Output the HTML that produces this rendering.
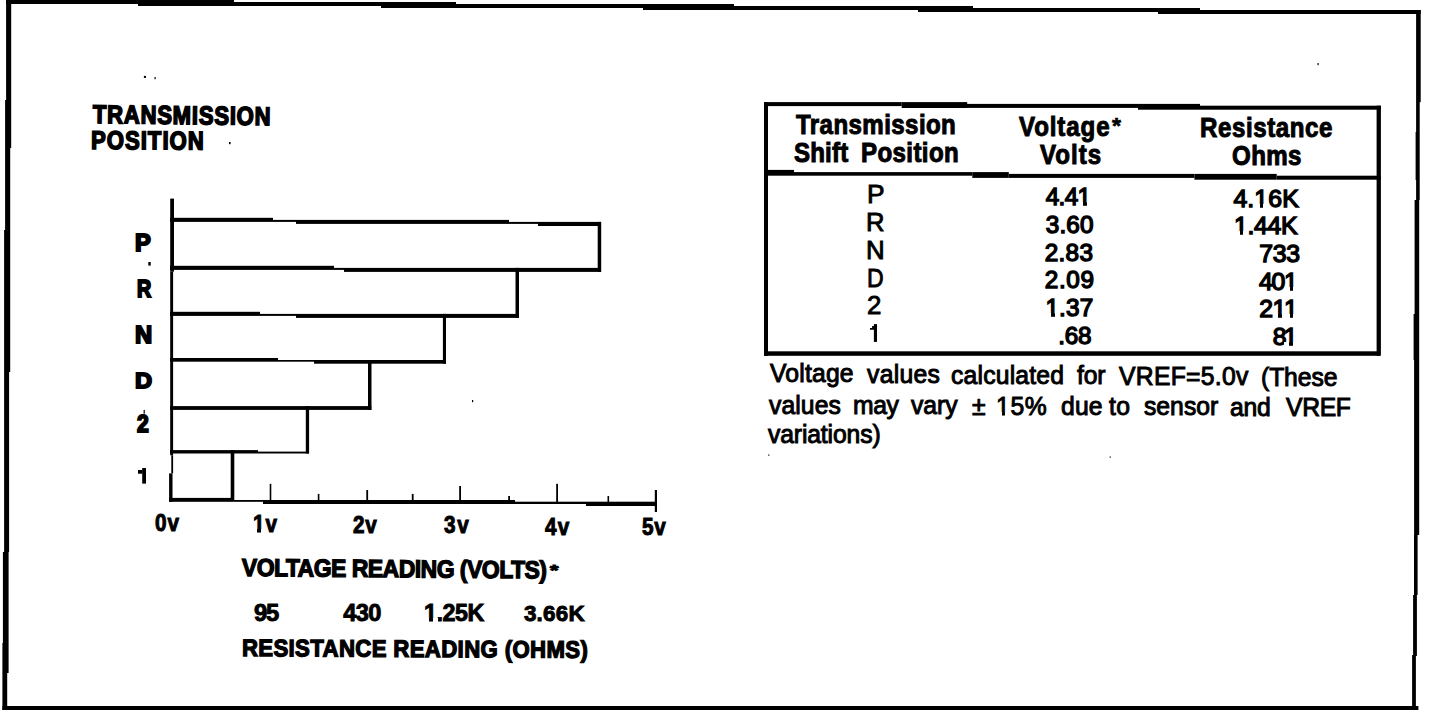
<!DOCTYPE html>
<html><head><meta charset="utf-8">
<style>
html,body{margin:0;padding:0;background:#fff;}
body{width:1440px;height:710px;position:relative;overflow:hidden;font-family:"Liberation Sans",sans-serif;color:#000;}
svg{position:absolute;left:0;top:0;}
.t{position:absolute;white-space:pre;line-height:1;transform-origin:0 0;}
.b{font-weight:bold;}
</style></head>
<body>
<svg width="1440" height="710" viewBox="0 0 1440 710">
<g fill="#000">
<!-- outer frame top (stepped) -->
<rect x="6" y="0" width="132" height="4"/>
<rect x="138" y="0" width="96" height="6"/>
<rect x="234" y="2" width="147" height="4"/>
<rect x="381" y="2" width="75" height="6"/>
<rect x="456" y="4" width="187" height="4"/>
<rect x="643" y="4" width="91" height="6"/>
<rect x="734" y="6" width="184" height="4"/>
<rect x="918" y="6" width="55" height="6"/>
<rect x="973" y="8" width="185" height="4"/>
<rect x="1158" y="8" width="42" height="6"/>
<rect x="1200" y="10" width="220.7" height="4"/>
<!-- left border -->
<rect x="6.1" y="0" width="5.1" height="100"/>
<rect x="5.1" y="100" width="6.1" height="48"/>
<rect x="5.1" y="148" width="5.1" height="82"/>
<rect x="4.1" y="230" width="6.1" height="142"/>
<rect x="4.1" y="372" width="5" height="180"/>
<rect x="2.9" y="552" width="5.7" height="91"/>
<rect x="2.4" y="643" width="6.2" height="30"/>
<rect x="2.4" y="673" width="4.8" height="37"/>
<!-- right border -->
<rect x="1416.1" y="10.2" width="4.6" height="92"/>
<rect x="1416.1" y="102" width="3.6" height="30"/>
<rect x="1415.6" y="132" width="4.1" height="48"/>
<rect x="1416.1" y="180" width="3.6" height="20"/>
<rect x="1414.6" y="200" width="4.6" height="114"/>
<rect x="1413.6" y="314" width="5.6" height="46"/>
<rect x="1414.1" y="360" width="5.1" height="175"/>
<rect x="1414" y="535" width="3.6" height="60"/>
<rect x="1413.1" y="595" width="3.8" height="61"/>
<rect x="1412.1" y="655" width="3.8" height="55"/>
<!-- bottom -->
<rect x="2.4" y="706" width="1416" height="4"/>

<!-- chart axis -->
<rect x="170.2" y="198.6" width="3.8" height="73"/>
<rect x="170.2" y="271.5" width="2.9" height="183.8"/>
<rect x="171.3" y="455.3" width="1.8" height="18.1"/>
<rect x="169.1" y="473.4" width="3.4" height="28.3"/>
<!-- bars: top lines -->
<rect x="170" y="217.8" width="103" height="4.1"/>
<rect x="273" y="219.9" width="23" height="2"/>
<rect x="296" y="219.9" width="213" height="4"/>
<rect x="509" y="221.9" width="29" height="2"/>
<rect x="538" y="221.9" width="63" height="4.1"/>
<rect x="170" y="265.8" width="164" height="4.1"/>
<rect x="334" y="267.9" width="10" height="2"/>
<rect x="344" y="267.9" width="257" height="4"/>
<rect x="170" y="311.8" width="90" height="4.1"/>
<rect x="260" y="313.9" width="36" height="2"/>
<rect x="296" y="313.9" width="223" height="4"/>
<rect x="170" y="358" width="108" height="3.7"/>
<rect x="278" y="360" width="36" height="1.7"/>
<rect x="314" y="360" width="132" height="3.7"/>
<rect x="170" y="406.1" width="201.3" height="3.8"/>
<rect x="170" y="450.1" width="88" height="3.4"/>
<rect x="258" y="451.6" width="51" height="1.9"/>
<!-- bar right edges -->
<rect x="597.7" y="221.9" width="3.5" height="50"/>
<rect x="515.5" y="267.9" width="3.5" height="50"/>
<rect x="442.9" y="313.9" width="3.1" height="49.8"/>
<rect x="368" y="360" width="3.5" height="49.9"/>
<rect x="305.8" y="406.1" width="3.3" height="47.4"/>
<rect x="230.7" y="450.1" width="3.6" height="51"/>
<!-- bottom axis -->
<rect x="169.1" y="497.9" width="64.7" height="3.9"/>
<rect x="233.8" y="500" width="29.2" height="1.8"/>
<rect x="263" y="500" width="252" height="4"/>
<rect x="515" y="501.7" width="71" height="2.3"/>
<rect x="586" y="501.7" width="70" height="4.3"/>
<!-- ticks -->
<rect x="269.7" y="483.8" width="1.6" height="17.7"/>
<rect x="317.8" y="493.9" width="1.6" height="7.6"/>
<rect x="366.3" y="490" width="1.8" height="11.5"/>
<rect x="411.8" y="493.9" width="1.8" height="7.6"/>
<rect x="459.2" y="486" width="1.8" height="15.5"/>
<rect x="508.2" y="496" width="1.8" height="5.5"/>
<rect x="556.2" y="483.8" width="1.8" height="18.5"/>
<rect x="607.5" y="496" width="1.6" height="6.5"/>
<rect x="654.8" y="490" width="2.2" height="22"/>

<!-- table -->
<rect x="764" y="102.1" width="137.7" height="4"/>
<rect x="901.7" y="102.1" width="65.5" height="5.9"/>
<rect x="967" y="103.9" width="171" height="4"/>
<rect x="1138" y="103.9" width="62" height="5.8"/>
<rect x="1200" y="105.7" width="181" height="4"/>
<rect x="764" y="169.9" width="30" height="5.8"/>
<rect x="794" y="172.1" width="178.3" height="3.6"/>
<rect x="972.3" y="172.1" width="36.5" height="5.8"/>
<rect x="1008.8" y="173.9" width="185.6" height="4"/>
<rect x="1194.4" y="173.9" width="82.3" height="5.8"/>
<rect x="1276.7" y="175.7" width="104" height="4"/>
<rect x="764" y="351.3" width="616" height="4.5"/>
<rect x="764" y="102.1" width="4" height="253.7"/>
<rect x="1376.6" y="105.7" width="4.3" height="250"/>
<!-- glyph 1 chart -->
<rect x="142.2" y="468" width="3.8" height="15.6"/>
<rect x="138" y="470" width="4.5" height="3.7"/>
<!-- glyph 1 table -->
<rect x="873.9" y="324.1" width="3.1" height="17.8"/>
<polygon points="870,327.9 872.1,327.9 872.1,326 874.5,326 874.5,329.8 870,329.8"/>
<!-- specks -->
<rect x="143.9" y="75.9" width="2.1" height="2"/>
<rect x="154.5" y="77" width="1.2" height="2.2"/>
<rect x="1317.5" y="63" width="1.2" height="2.2"/>
<rect x="148.3" y="262" width="2.4" height="3.6"/>
<rect x="143.6" y="409.9" width="1.2" height="3.8"/>
<rect x="229" y="142" width="1.6" height="2.2"/>
<rect x="472" y="400" width="1.2" height="2.2"/>
<rect x="768.2" y="454.5" width="1.2" height="1.2"/>
<rect x="1109.6" y="456.5" width="1.2" height="1.2"/>
</g>
</svg>
<div class="t b" id="tr1" style="left:93.03px;top:101.94px;font-size:25.70px;transform:rotate(0.680deg) scaleX(0.8600);letter-spacing:0.88px;-webkit-text-stroke:1.60px #000;">TRANSMISSION</div>
<div class="t b" id="tr2" style="left:90.83px;top:128.14px;font-size:25.70px;transform:rotate(0.300deg) scaleX(0.8600);letter-spacing:1.21px;-webkit-text-stroke:1.60px #000;">POSITION</div>
<div class="t b" id="cP" style="left:134.75px;top:232.35px;font-size:23.00px;transform:scaleX(1.0250);-webkit-text-stroke:1.90px #000;">P</div>
<div class="t b" id="cR" style="left:136.69px;top:278.24px;font-size:23.48px;transform:scaleX(0.8390);-webkit-text-stroke:1.90px #000;">R</div>
<div class="t b" id="cN" style="left:134.56px;top:323.41px;font-size:23.96px;transform:scaleX(0.9921);-webkit-text-stroke:1.90px #000;">N</div>
<div class="t b" id="cD" style="left:134.70px;top:370.01px;font-size:22.55px;transform:scaleX(1.0480);-webkit-text-stroke:1.90px #000;">D</div>
<div class="t b" id="c2" style="left:136.87px;top:413.47px;font-size:23.58px;transform:scaleX(0.8942);-webkit-text-stroke:1.90px #000;">2</div>
<div class="t b" id="x0" style="left:155.32px;top:510.65px;font-size:24.40px;transform:scaleX(0.8500);letter-spacing:1.17px;-webkit-text-stroke:1.00px #000;">0v</div>
<div class="t b" id="x1" style="left:253.02px;top:511.55px;font-size:24.40px;transform:scaleX(0.8500);letter-spacing:1.25px;-webkit-text-stroke:1.00px #000;"><span class="one">1</span>v</div>
<div class="t b" id="x2" style="left:353.16px;top:513.15px;font-size:24.40px;transform:scaleX(0.8500);letter-spacing:0.74px;-webkit-text-stroke:1.00px #000;">2v</div>
<div class="t b" id="x3" style="left:444.10px;top:512.95px;font-size:24.40px;transform:scaleX(0.8500);letter-spacing:1.89px;-webkit-text-stroke:1.00px #000;">3v</div>
<div class="t b" id="x4" style="left:544.82px;top:515.35px;font-size:24.40px;transform:scaleX(0.8500);letter-spacing:1.48px;-webkit-text-stroke:1.00px #000;">4v</div>
<div class="t b" id="x5" style="left:641.91px;top:515.15px;font-size:24.40px;transform:scaleX(0.8500);letter-spacing:0.75px;-webkit-text-stroke:1.00px #000;">5v</div>
<div class="t b" id="vr" style="left:241.93px;top:556.29px;font-size:24.70px;transform:rotate(0.450deg) scaleX(0.9300);letter-spacing:-0.55px;-webkit-text-stroke:1.30px #000;">VOLTAGE READING (VOLTS)</div>
<div class="t b" id="r95" style="left:253.92px;top:601.44px;font-size:23.83px;letter-spacing:-1.12px;-webkit-text-stroke:0.90px #000;">95</div>
<div class="t b" id="r430" style="left:343.22px;top:601.58px;font-size:23.61px;letter-spacing:-0.64px;-webkit-text-stroke:0.90px #000;">430</div>
<div class="t b" id="r125" style="left:424.00px;top:602.15px;font-size:23.29px;letter-spacing:-0.44px;-webkit-text-stroke:0.90px #000;"><span class="one">1</span>.25K</div>
<div class="t b" id="r366" style="left:523.92px;top:602.91px;font-size:22.41px;letter-spacing:0.23px;-webkit-text-stroke:0.90px #000;">3.66K</div>
<div class="t b" id="rr" style="left:241.67px;top:635.65px;font-size:23.80px;transform:rotate(0.300deg) scaleX(0.9300);letter-spacing:0.42px;-webkit-text-stroke:1.30px #000;">RESISTANCE READING (OHMS)</div>
<div class="t b" id="h1a" style="left:795.98px;top:111.01px;font-size:27.40px;transform:scaleX(0.8800);letter-spacing:0.46px;-webkit-text-stroke:1.00px #000;">Transmission</div>
<div class="t b" id="h2a" style="left:1019.25px;top:112.61px;font-size:27.40px;transform:scaleX(0.8800);letter-spacing:1.01px;-webkit-text-stroke:1.00px #000;">Voltage</div>
<div class="t b" id="h2b" style="left:1039.87px;top:140.81px;font-size:27.40px;transform:scaleX(0.8800);letter-spacing:1.15px;-webkit-text-stroke:1.00px #000;">Volts</div>
<div class="t b" id="h3a" style="left:1200.30px;top:114.41px;font-size:27.40px;transform:scaleX(0.8800);letter-spacing:0.64px;-webkit-text-stroke:1.00px #000;">Resistance</div>
<div class="t b" id="h3b" style="left:1231.75px;top:142.01px;font-size:27.40px;transform:scaleX(0.8800);letter-spacing:0.45px;-webkit-text-stroke:1.00px #000;">Ohms</div>
<div class="t" id="tP" style="left:867.02px;top:182.16px;font-size:25.80px;transform:scaleX(1.0197);-webkit-text-stroke:0.90px #000;">P</div>
<div class="t" id="tR" style="left:865.85px;top:209.96px;font-size:25.80px;transform:scaleX(0.9934);-webkit-text-stroke:0.90px #000;">R</div>
<div class="t" id="tN" style="left:865.84px;top:237.76px;font-size:25.80px;transform:scaleX(1.0029);-webkit-text-stroke:0.90px #000;">N</div>
<div class="t" id="tD" style="left:867.05px;top:265.56px;font-size:25.80px;transform:scaleX(0.8937);-webkit-text-stroke:0.90px #000;">D</div>
<div class="t" id="t2" style="left:866.95px;top:293.36px;font-size:25.80px;transform:scaleX(1.0018);-webkit-text-stroke:0.90px #000;">2</div>
<div class="t" id="v1" style="left:1045.67px;top:185.33px;font-size:24.30px;letter-spacing:-0.64px;-webkit-text-stroke:1.40px #000;">4.4<span class="one">1</span></div>
<div class="t" id="v2" style="left:1045.82px;top:213.03px;font-size:24.30px;letter-spacing:0.14px;-webkit-text-stroke:1.40px #000;">3.60</div>
<div class="t" id="v3" style="left:1044.80px;top:240.73px;font-size:24.30px;letter-spacing:0.27px;-webkit-text-stroke:1.40px #000;">2.83</div>
<div class="t" id="v4" style="left:1044.77px;top:268.43px;font-size:24.30px;letter-spacing:0.64px;-webkit-text-stroke:1.40px #000;">2.09</div>
<div class="t" id="v5" style="left:1045.43px;top:296.13px;font-size:24.30px;letter-spacing:0.16px;-webkit-text-stroke:1.40px #000;"><span class="one">1</span>.37</div>
<div class="t" id="v6" style="left:1058.15px;top:323.83px;font-size:24.30px;letter-spacing:-0.24px;-webkit-text-stroke:1.40px #000;">.68</div>
<div class="t" id="o1" style="left:1233.43px;top:186.51px;font-size:24.80px;letter-spacing:0.12px;-webkit-text-stroke:1.40px #000;">4.<span class="one">1</span>6K</div>
<div class="t" id="o2" style="left:1234.09px;top:214.21px;font-size:24.80px;letter-spacing:-0.33px;-webkit-text-stroke:1.40px #000;"><span class="one">1</span>.44K</div>
<div class="t" id="o3" style="left:1259.18px;top:241.91px;font-size:24.80px;letter-spacing:-0.26px;-webkit-text-stroke:1.40px #000;">733</div>
<div class="t" id="o4" style="left:1259.00px;top:269.61px;font-size:24.80px;letter-spacing:-1.31px;-webkit-text-stroke:1.40px #000;">40<span class="one">1</span></div>
<div class="t" id="o5" style="left:1259.36px;top:297.31px;font-size:24.80px;letter-spacing:-0.60px;-webkit-text-stroke:1.40px #000;">2<span class="one">1</span><span class="one">1</span></div>
<div class="t" id="o6" style="left:1272.71px;top:325.01px;font-size:24.80px;letter-spacing:-2.80px;-webkit-text-stroke:1.40px #000;">8<span class="one">1</span></div>
<div class="t" id="w0" style="left:770.00px;top:360.18px;font-size:26.00px;transform:scaleX(0.9500);letter-spacing:0.20px;-webkit-text-stroke:1.00px #000;">Voltage</div>
<div class="t" id="w1" style="left:866.60px;top:360.80px;font-size:26.00px;transform:scaleX(0.9500);letter-spacing:0.30px;-webkit-text-stroke:1.00px #000;">values</div>
<div class="t" id="w2" style="left:950.80px;top:361.52px;font-size:26.00px;transform:scaleX(0.9500);letter-spacing:0.21px;-webkit-text-stroke:1.00px #000;">calculated</div>
<div class="t" id="w3" style="left:1077.00px;top:362.10px;font-size:26.00px;transform:scaleX(0.9500);letter-spacing:-0.15px;-webkit-text-stroke:1.00px #000;">for</div>
<div class="t" id="w4" style="left:1119.00px;top:362.74px;font-size:26.00px;transform:scaleX(0.9500);letter-spacing:0.31px;-webkit-text-stroke:1.00px #000;">VREF=5.0v</div>
<div class="t" id="w5" style="left:1261.00px;top:363.53px;font-size:26.00px;transform:scaleX(0.9500);letter-spacing:-0.10px;-webkit-text-stroke:1.00px #000;">(These</div>
<div class="t" id="w6" style="left:769.00px;top:391.83px;font-size:26.00px;transform:scaleX(0.9500);letter-spacing:0.10px;-webkit-text-stroke:1.00px #000;">values</div>
<div class="t" id="w7" style="left:852.80px;top:392.11px;font-size:26.00px;transform:scaleX(0.9500);letter-spacing:-0.45px;-webkit-text-stroke:1.00px #000;">may</div>
<div class="t" id="w8" style="left:911.00px;top:392.35px;font-size:26.00px;transform:scaleX(0.9500);-webkit-text-stroke:1.00px #000;">vary</div>
<div class="t" id="w9" style="left:972.20px;top:392.52px;font-size:26.00px;transform:scaleX(0.9500);-webkit-text-stroke:1.00px #000;">±</div>
<div class="t" id="w10" style="left:996.00px;top:392.69px;font-size:26.00px;transform:scaleX(0.9500);letter-spacing:0.70px;-webkit-text-stroke:1.00px #000;"><span class="one">1</span>5%</div>
<div class="t" id="w11" style="left:1060.80px;top:392.93px;font-size:26.00px;transform:scaleX(0.9500);letter-spacing:0.15px;-webkit-text-stroke:1.00px #000;">due</div>
<div class="t" id="w12" style="left:1109.40px;top:393.07px;font-size:26.00px;transform:scaleX(0.9500);letter-spacing:0.40px;-webkit-text-stroke:1.00px #000;">to</div>
<div class="t" id="w13" style="left:1144.40px;top:393.32px;font-size:26.00px;transform:scaleX(0.9500);letter-spacing:0.02px;-webkit-text-stroke:1.00px #000;">sensor</div>
<div class="t" id="w14" style="left:1230.40px;top:393.60px;font-size:26.00px;transform:scaleX(0.9500);letter-spacing:-0.20px;-webkit-text-stroke:1.00px #000;">and</div>
<div class="t" id="w15" style="left:1286.00px;top:393.86px;font-size:26.00px;transform:scaleX(0.9500);letter-spacing:-0.33px;-webkit-text-stroke:1.00px #000;">VREF</div>
<div class="t" id="w16" style="left:768.00px;top:421.39px;font-size:26.00px;transform:scaleX(0.9500);letter-spacing:-0.14px;-webkit-text-stroke:1.00px #000;">variations)</div>
<div class="t b" id="h1b1" style="left:793.57px;top:138.71px;font-size:27.40px;transform:scaleX(0.8800);letter-spacing:0.18px;-webkit-text-stroke:1.00px #000;">Shift</div>
<div class="t b" id="h1b2" style="left:861.14px;top:138.71px;font-size:27.40px;transform:scaleX(0.8800);letter-spacing:0.44px;-webkit-text-stroke:1.00px #000;">Position</div>
<div class="t b" id="vast" style="left:549.84px;top:562.62px;font-size:14.78px;transform:scaleX(1.4583);-webkit-text-stroke:1.00px #000;">*</div>
<div class="t b" id="h2ast" style="left:1112.42px;top:114.71px;font-size:21.74px;transform:scaleX(1.0645);-webkit-text-stroke:0.60px #000;">*</div>
<svg width="1440" height="710" viewBox="0 0 1440 710" style="position:absolute;left:0;top:0;"><g fill="#fff">
<rect x="253" y="529" width="4" height="4.5"/>
<rect x="261" y="529" width="4" height="4.5"/>
<rect x="424" y="618" width="5" height="4.5"/>
<rect x="433" y="618" width="5" height="4.5"/>
<rect x="1078" y="202" width="5" height="4.5"/>
<rect x="1087" y="202" width="4" height="4.5"/>
<rect x="1046" y="313" width="5" height="4.5"/>
<rect x="1055" y="313" width="4" height="4.5"/>
<rect x="1255" y="204" width="5" height="4.5"/>
<rect x="1263" y="204" width="5" height="4.5"/>
<rect x="1234" y="231" width="6" height="4.5"/>
<rect x="1243" y="231" width="5" height="4.5"/>
<rect x="1284" y="287" width="6" height="4.5"/>
<rect x="1293" y="287" width="5" height="4.5"/>
<rect x="1273" y="314" width="5" height="4.5"/>
<rect x="1282" y="314" width="5" height="4.5"/>
<rect x="1284" y="314" width="6" height="4.5"/>
<rect x="1293" y="314" width="5" height="4.5"/>
<rect x="1284" y="342" width="5" height="4.5"/>
<rect x="1293" y="342" width="5" height="4.5"/>
<rect x="997" y="412" width="5" height="4.5"/>
<rect x="1005" y="412" width="5" height="4.5"/>
</g></svg>
</body></html>
